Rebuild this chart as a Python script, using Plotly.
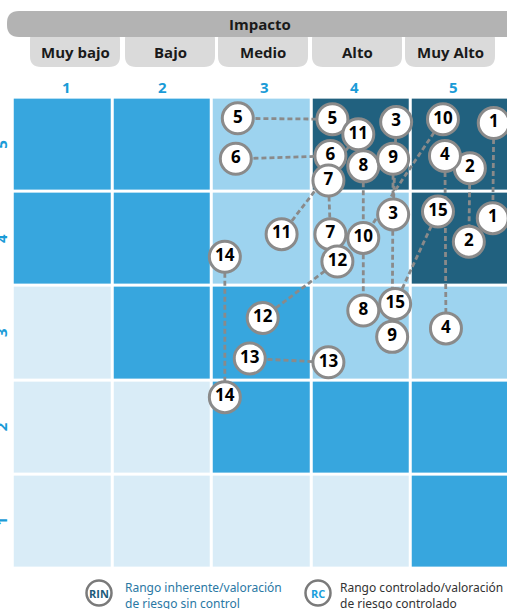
import plotly.graph_objects as go

# ---------------- data ----------------
impact_levels = [1, 2, 3, 4, 5]
impact_labels = ["Muy bajo", "Bajo", "Medio", "Alto", "Muy Alto"]
prob_levels = [1, 2, 3, 4, 5]

# cell risk zone (0 very low .. 3 extreme), rows = probability 1..5, cols = impact 1..5
zone_row1 = [0, 0, 0, 0, 2]
zone_row2 = [0, 0, 2, 2, 2]
zone_row3 = [0, 2, 2, 1, 1]
zone_row4 = [2, 2, 1, 1, 3]
zone_row5 = [2, 2, 1, 3, 3]

risk_ids = [str(i) for i in range(1, 16)]
# inherent (RIN) positions
rin_x = [5.33, 5.09, 4.35, 4.84, 3.71, 3.69, 3.67, 4.02, 4.32, 4.82, 3.97, 3.76, 3.67, 2.63, 4.77]
rin_y = [5.23, 4.75, 5.24, 4.88, 5.27, 4.88, 4.62, 4.77, 4.85, 5.27, 5.11, 3.76, 2.69, 3.81, 4.29]
# controlled (RC) positions
rc_x = [5.32, 5.08, 4.32, 4.85, 2.76, 2.74, 3.69, 4.02, 4.31, 4.02, 3.20, 3.01, 2.88, 2.63, 4.34]
rc_y = [4.22, 3.97, 4.26, 3.05, 5.28, 4.85, 4.05, 3.24, 2.96, 4.01, 4.05, 3.16, 2.73, 2.32, 3.31]

# ---------------- style ----------------
W, H = 507, 609
C_VL, C_L, C_M, C_D = "#d9ecf7", "#9dd3ef", "#37a6de", "#21617f"
BLUE_TXT = "#1a9bd7"
GRAY_LINE = "#8a8a8a"

X_RANGE = [0.3725, 5.463]
Y_RANGE = [0.071, 6.536]

fig = go.Figure()

fig.add_trace(go.Heatmap(
    x=impact_levels, y=prob_levels,
    z=[zone_row1, zone_row2, zone_row3, zone_row4, zone_row5],
    zmin=0, zmax=3,
    colorscale=[[0, C_VL], [0.1667, C_VL], [0.1667, C_L], [0.5, C_L],
                [0.5, C_M], [0.8333, C_M], [0.8333, C_D], [1, C_D]],
    showscale=False, xgap=3, ygap=3, hoverinfo="skip"))

# dashed connectors
lx, ly = [], []
for a, b, c, d in zip(rin_x, rin_y, rc_x, rc_y):
    lx += [a, c, None]
    ly += [b, d, None]
fig.add_trace(go.Scatter(x=lx, y=ly, mode="lines",
                         line=dict(color=GRAY_LINE, width=2.8, dash="5px,3px"),
                         hoverinfo="skip", showlegend=False))

circle_font = dict(family="'Open Sans', Lato, sans-serif", size=17, color="#000000", weight="bold")
for xs, ys in ((rc_x, rc_y), (rin_x, rin_y)):
    fig.add_trace(go.Scatter(
        x=xs, y=ys, mode="markers+text", text=risk_ids,
        textposition="middle center", textfont=circle_font,
        marker=dict(size=31, color="white", line=dict(color=GRAY_LINE, width=3)),
        hoverinfo="skip", showlegend=False))

# ---------------- header / decoration ----------------
def px_x(p):
    return p / W

def px_y(p):
    return 1 - p / H

def rrect(x0, y0, x1, y1, r):
    rx, ry = r / W, r / H
    X0, X1 = px_x(x0), px_x(x1)
    Y0, Y1 = px_y(y0), px_y(y1)  # Y0 top (larger), Y1 bottom
    return (f"M {X0+rx},{Y0} L {X1-rx},{Y0} Q {X1},{Y0} {X1},{Y0-ry} "
            f"L {X1},{Y1+ry} Q {X1},{Y1} {X1-rx},{Y1} L {X0+rx},{Y1} "
            f"Q {X0},{Y1} {X0},{Y1+ry} L {X0},{Y0-ry} Q {X0},{Y0} {X0+rx},{Y0} Z")

shapes = []
sub_boxes = [(30, 120), (125, 215), (218, 308), (312, 402), (405, 495)]
for (a, b) in sub_boxes:
    shapes.append(dict(type="path", xref="paper", yref="paper",
                       path=rrect(a, 28, b, 67, 11), fillcolor="#dadada", line=dict(width=0)))
shapes.append(dict(type="path", xref="paper", yref="paper",
                   path=rrect(7, 11, 540, 37, 12), fillcolor="#b3b3b3", line=dict(width=0)))

# legend circles
for cx in (99, 318):
    shapes.append(dict(type="circle", xref="paper", yref="paper",
                       x0=px_x(cx - 12.5), x1=px_x(cx + 12.5),
                       y0=px_y(593 + 12.5), y1=px_y(593 - 12.5),
                       fillcolor="white", line=dict(color="#7a7a7a", width=2.5)))

head_font = "'Open Sans', Lato, sans-serif"
ann = []
def A(**kw):
    d = dict(xref="paper", yref="paper", showarrow=False, xanchor="center", yanchor="middle")
    d.update(kw)
    ann.append(d)

A(x=px_x(260), y=px_y(24), text="<b>Impacto</b>",
  font=dict(family=head_font, size=15, color="#1a1a1a"))
for (a, b), lab in zip(sub_boxes, impact_labels):
    A(x=px_x((a + b) / 2), y=px_y(52), text=f"<b>{lab}</b>",
      font=dict(family=head_font, size=15, color="#1a1a1a"))
col_label_px = [66, 162, 264, 354, 453]
for p, v in zip(col_label_px, impact_levels):
    A(x=px_x(p), y=px_y(87), text=f"<b>{v}</b>",
      font=dict(family=head_font, size=15, color=BLUE_TXT))
for v in prob_levels:
    A(x=px_x(1), y=v, yref="y", text=f"<b>{v}</b>", textangle=-90,
      font=dict(family=head_font, size=15, color=BLUE_TXT))

# legend
A(x=px_x(99), y=px_y(593), text="<b>RIN</b>",
  font=dict(family=head_font, size=11, color="#1d5c7b"))
A(x=px_x(318), y=px_y(593), text="<b>RC</b>",
  font=dict(family=head_font, size=11, color="#1aa0dd"))
leg_font = "'Noto Sans', 'Open Sans', sans-serif"
A(x=px_x(123), y=px_y(595.5), text="Rango inherente/valoración<br>de riesgo sin control",
  xanchor="left", align="left", font=dict(family=leg_font, size=12, color="#2a78a4"))
A(x=px_x(338), y=px_y(595.5), text="Rango controlado/valoración<br>de riesgo controlado",
  xanchor="left", align="left", font=dict(family=leg_font, size=12, color="#333333"))

fig.update_layout(
    width=W, height=H, margin=dict(l=0, r=0, t=0, b=0),
    paper_bgcolor="white", plot_bgcolor="white",
    xaxis=dict(range=X_RANGE, visible=False, fixedrange=True),
    yaxis=dict(range=Y_RANGE, visible=False, fixedrange=True),
    shapes=shapes, annotations=ann, showlegend=False)

fig.write_html("out.html", config={"displayModeBar": False},
               post_script="document.body.style.margin='0';document.body.style.overflow='hidden';")
